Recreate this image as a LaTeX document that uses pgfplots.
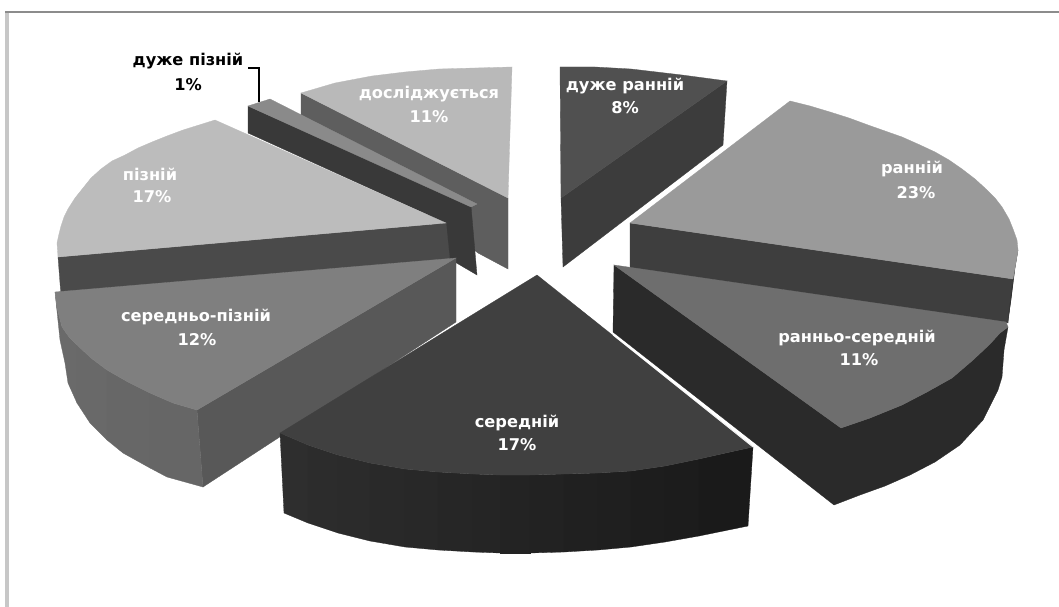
\documentclass[border=0pt]{standalone}
\usepackage{pgfplots}
\pgfplotsset{compat=1.18}
\usepackage{fontspec}
\setmainfont{DejaVu Sans}
\definecolor{topA}{HTML}{505050}
\definecolor{sideA}{HTML}{3C3C3C}
\definecolor{topB}{HTML}{9A9A9A}
\definecolor{sideB}{HTML}{3E3E3E}
\definecolor{topC}{HTML}{6E6E6E}
\definecolor{sideC}{HTML}{2A2A2A}
\definecolor{topD}{HTML}{404040}
\definecolor{topE}{HTML}{7F7F7F}
\definecolor{sideE}{HTML}{585858}
\definecolor{topF}{HTML}{BCBCBC}
\definecolor{sideF}{HTML}{4A4A4A}
\definecolor{topG}{HTML}{8A8A8A}
\definecolor{sideG}{HTML}{393939}
\definecolor{topH}{HTML}{B9B9B9}
\definecolor{sideH}{HTML}{5E5E5E}
% one flat face of the exploded pie, outline given in pixel coordinates
\newcommand{\face}[2]{\addplot[fill=#1,draw=#1,line width=0.3pt] coordinates {#2} -- cycle;}
\newcommand{\lab}[4][white]{\node[text=#1,font=\fontsize{16.2}{18}\selectfont\bfseries,align=center,inner sep=0pt] at (axis cs:#2,#3) {#4};}
\begin{document}
\begin{tikzpicture}
\begin{axis}[
  scale only axis, width=1059pt, height=607pt,
  xmin=0, xmax=1059, ymin=0, ymax=607, y dir=reverse,
  hide axis, clip=true, no markers]
% page and frame
\addplot[fill=white,draw=none] coordinates {(0,0)(1059,0)(1059,607)(0,607)} -- cycle;
\addplot[fill=black!22,draw=none] coordinates {(5,12)(9,12)(9,607)(5,607)} -- cycle;
\addplot[draw=black!45,line width=1.3pt] coordinates {(5,12)(1059,12)};

% досліджується 11%
\face{sideH}{(301,93)(508,198)(508,269)(478,253)(301,118)}
\face{topH}{(301,93)(335,83)(372,76)(405,72)(439,69)(475,68)(512,67)(508,198)}

% дуже пізній 1%
\face{sideG}{(248,106)(471,206)(477,275)(448,258)(446,223)(248,133)}
\face{topG}{(248,106)(270,99)(477,204)(471,207)}
\addplot[draw=black,line width=1.2pt] coordinates {(248,68)(259,68)(259,102)};

% пізній 17%
\face{sideF}{(58,257)(446,223)(450,262)(61,296)}
\face{topF}{(215,120)(446,223)(58,257)(57,243)(59,234)(61,226)(64,217)(68,209)(75,198)(83,188)(91,178)(101,169)(112,161)(125,155)(138,148)(152,142)(167,136)(183,130)(199,125)}

% середньо-пізній 12%
\face{sideE}{(197,410)(456,258)(456,322)(203,487)}
\face{black!58.5}{(55,292)(57,308)(62,327)(69,337)(77,345)(77,403)(68,383)(65,363)(60,340)}
\face{black!59}{(77,345)(91,358)(107,370)(107,440)(90,423)(77,403)}
\face{black!59.5}{(107,370)(128,382)(150,393)(150,468)(123,453)(107,440)}
\face{black!60}{(150,393)(173,403)(197,410)(203,487)(167,477)(150,468)}
\face{topE}{(456,258)(55,292)(57,308)(62,327)(69,337)(77,345)(91,358)(107,370)(128,382)(150,393)(173,403)(197,410)}

% ранній 23%
\face{sideB}{(630,223)(1013,279)(1008,323)(630,268)}
\face{black!80}{(1018,250)(1015,268)(1011,300)(1008,320)(1013,279)}
\face{topB}{(630,223)(790,101)(810,106)(830,112)(849,118)(868,125)(902,137)(920,145)(935,152)(949,160)(962,169)(975,179)(986,189)(995,198)(1002,207)(1009,219)(1013,229)(1017,240)(1018,250)(1013,279)}

% дуже ранній 8%
\face{sideA}{(727,81)(561,198)(563,267)(723,145)}
\face{topA}{(560,67)(595,67)(631,69)(682,75)(727,81)(561,198)}

% ранньо-середній 11%
\face{sideC}{(614,265)(841,428)(870,418)(902,405)(927,392)(952,378)(973,360)(990,344)(1000,333)(1008,327)(1004,350)(1002,377)(998,390)(983,420)(960,445)(935,462)(910,475)(885,486)(860,495)(834,505)(613,332)}
\face{topC}{(614,265)(1006,322)(1008,327)(1000,333)(990,344)(973,360)(952,378)(927,392)(902,405)(870,418)(841,428)}

% середній 17%
\face{black!82}{(280,433)(308,445)(308,523)(284,513)}
\face{black!82.6}{(308,445)(338,455)(338,533)(308,523)}
\face{black!83.2}{(338,455)(370,463)(370,541)(338,533)}
\face{black!83.8}{(370,463)(405,469)(405,547)(370,541)}
\face{black!84.4}{(405,469)(438,472)(438,550)(405,547)}
\face{black!85}{(438,472)(473,474)(473,552)(438,550)}
\face{black!85.6}{(473,474)(500,475)(500,553)(473,552)}
\face{black!86.2}{(500,475)(530,475)(530,553)(500,553)}
\face{black!86.8}{(530,475)(564,474)(564,552)(530,553)}
\face{black!87.4}{(564,474)(598,473)(598,550)(564,552)}
\face{black!88}{(598,473)(631,471)(631,547)(598,550)}
\face{black!88.6}{(631,471)(665,466)(665,542)(631,547)}
\face{black!89.2}{(665,466)(699,459)(699,536)(665,542)}
\face{black!89.8}{(699,459)(753,447)(748,526)(699,536)}
\face{topD}{(537,275)(753,447)(730,452)(699,459)(665,466)(631,471)(598,473)(564,474)(530,475)(500,475)(473,474)(438,472)(405,469)(370,463)(338,455)(308,445)(280,433)}
\addplot[draw=white,line width=0.8pt] coordinates {(613,335)(753,447)};

% slice labels
\lab{625}{86}{дуже ранній}
\lab{625}{108}{8\%}
\lab{912}{169}{ранній}
\lab{916}{193}{23\%}
\lab{857}{338}{ранньо-середній}
\lab{859}{360}{11\%}
\lab{517}{423}{середній}
\lab{517}{445}{17\%}
\lab{196}{317}{середньо-пізній}
\lab{197}{340}{12\%}
\lab{150}{174}{пізній}
\lab{152}{197}{17\%}
\lab{429}{94}{досліджується}
\lab{429}{117}{11\%}
\lab[black]{188}{61}{дуже пізній}
\lab[black]{188}{85}{1\%}
\end{axis}
\end{tikzpicture}
\end{document}
